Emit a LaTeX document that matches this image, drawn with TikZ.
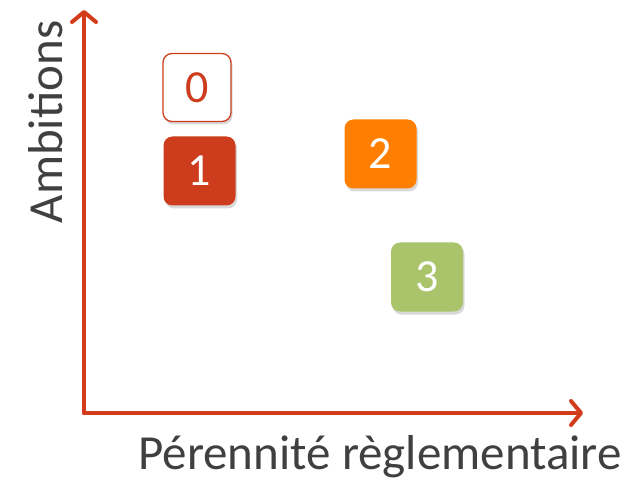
\documentclass[tikz,border=0pt]{standalone}
\usepackage{fontspec}
\setmainfont{Carlito}
\usetikzlibrary{arrows.meta,shadows}
\definecolor{axisred}{HTML}{D23C1B}
\definecolor{boxred}{HTML}{CC3C1D}
\definecolor{boxorange}{HTML}{FF7F00}
\definecolor{boxgreen}{HTML}{A9C46B}
\tikzset{
  axis/.style={draw=axisred, line width=4pt, line cap=round,
    -{Straight Barb[length=10pt,width=24pt,line width=4pt,round]},
    drop shadow={shadow xshift=1.5pt,shadow yshift=-2pt,opacity=0.25}},
  level/.style={rounded corners=9pt, minimum width=72pt, minimum height=69pt,
    inner sep=0pt, font=\fontsize{46}{46}\selectfont,
    drop shadow={shadow xshift=1.5pt,shadow yshift=-3pt,opacity=0.3}},
  title/.style={font=\fontsize{49}{49}\selectfont, text=black!75, inner sep=0pt}
}
\begin{document}
\begin{tikzpicture}[x=1pt,y=-1pt]
  \useasboundingbox (0,0) rectangle (632,481);
  % axes
  \coordinate (origin) at (84,413);
  \coordinate (ytip) at (84,10);
  \coordinate (xtip) at (583,413);
  \draw[axis] (origin) -- (ytip);
  \draw[axis] (origin) -- (xtip);
  % axis titles
  \node[title, rotate=90, anchor=base] (ylab) at (62,122) {Ambitions};
  \node[title, anchor=base] (xlab) at (380,469) {Pérennité règlementaire};
  % levels
  \node[level, draw=boxred, line width=1.3pt, fill=white, text=boxred,
        minimum width=68pt, minimum height=68pt] (n0) at (197,87.5) {0};
  \node[level, fill=boxred, text=white] (n1) at (199.5,171) {1};
  \node[level, fill=boxorange, text=white] (n2) at (380.5,154) {2};
  \node[level, fill=boxgreen, text=white] (n3) at (427,277) {3};
\end{tikzpicture}
\end{document}
